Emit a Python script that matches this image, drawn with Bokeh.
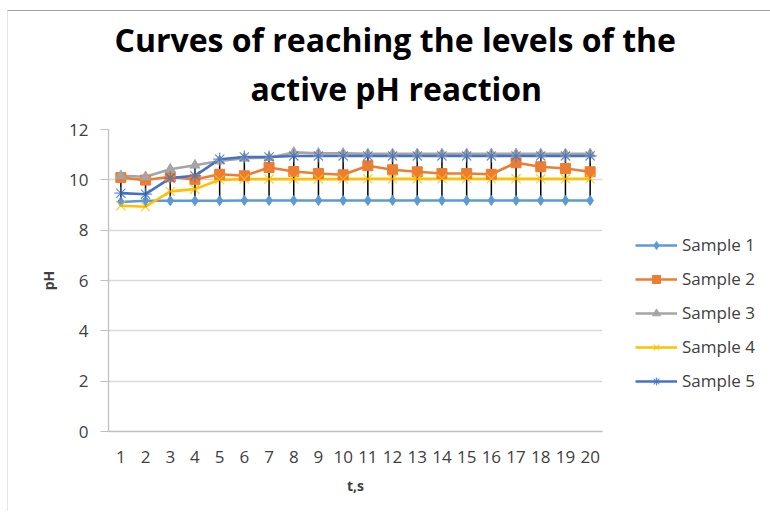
import numpy as np
from bokeh.plotting import figure
from bokeh.models import Range1d, FixedTicker, Legend, LegendItem, Title
from bokeh.embed import file_html
from bokeh.resources import INLINE

t = list(range(1, 21))
sample1 = [9.12, 9.17, 9.17, 9.17, 9.17, 9.18, 9.18, 9.18, 9.18, 9.18,
           9.18, 9.18, 9.18, 9.18, 9.18, 9.18, 9.18, 9.18, 9.18, 9.18]
sample2 = [10.09, 9.99, 10.12, 10.01, 10.22, 10.16, 10.49, 10.33, 10.25, 10.2,
           10.56, 10.4, 10.32, 10.25, 10.25, 10.22, 10.68, 10.52, 10.45, 10.32]
sample3 = [10.16, 10.12, 10.42, 10.58, 10.75, 10.86, 10.88, 11.09, 11.05, 11.05,
           11.03, 11.03, 11.03, 11.03, 11.03, 11.03, 11.03, 11.03, 11.03, 11.03]
sample4 = [8.97, 8.93, 9.54, 9.63, 10.0, 10.03, 10.03, 10.03, 10.03, 10.03,
           10.04, 10.04, 10.04, 10.04, 10.04, 10.04, 10.04, 10.04, 10.04, 10.04]
sample5 = [9.47, 9.43, 10.07, 10.16, 10.82, 10.91, 10.91, 10.95, 10.95, 10.95,
           10.95, 10.95, 10.95, 10.95, 10.95, 10.95, 10.95, 10.95, 10.95, 10.95]
names = ["Sample 1", "Sample 2", "Sample 3", "Sample 4", "Sample 5"]
y_ticks = [0, 2, 4, 6, 8, 10, 12]

series = [sample1, sample2, sample3, sample4, sample5]
colors = ["#5B9BD5", "#ED7D31", "#A5A5A5", "#FFC000", "#4472C4"]
markers = ["diamond", "square", "triangle", "x", "asterisk"]
msizes = [10, 10, 10, 13, 13]

FONT = "Open Sans"

p = figure(frame_width=494, frame_height=302, output_backend="svg",
           toolbar_location=None, x_range=Range1d(0.5, 20.5), y_range=Range1d(0, 12),
           min_border_left=100, min_border_right=168, min_border_top=118,
           min_border_bottom=80)
p.styles = {"border-top": "1px solid #a0a0a0", "border-left": "1px solid #e6e6e6",
            "margin-top": "10px", "margin-left": "7px"}
p.outline_line_color = None
p.background_fill_color = "white"
p.border_fill_color = "white"

p.add_layout(Title(text="active pH reaction", align="left", offset=142,
                   text_font=FONT, text_font_size="32px", text_font_style="bold",
                   text_color="#000000", standoff=40), "above")
p.add_layout(Title(text="Curves of reaching the levels of the", align="left", offset=6,
                   text_font=FONT, text_font_size="32px", text_font_style="bold",
                   text_color="#000000", standoff=-33), "above")

p.xgrid.visible = False
p.ygrid.grid_line_color = "#d9d9d9"
p.ygrid.grid_line_width = 1.3
p.ygrid.ticker = FixedTicker(ticks=y_ticks)

p.xaxis.ticker = FixedTicker(ticks=t)
p.xaxis.axis_line_color = "#bfbfbf"
p.xaxis.axis_line_width = 1.3
p.xaxis.major_tick_line_color = None
p.xaxis.minor_tick_line_color = None
p.xaxis.major_label_standoff = 13
p.xaxis.major_label_text_font = FONT
p.xaxis.major_label_text_font_size = "17px"
p.xaxis.major_label_text_color = "#404040"
p.xaxis.axis_label = "t,s"
p.xaxis.axis_label_text_font = FONT
p.xaxis.axis_label_text_font_size = "14px"
p.xaxis.axis_label_text_font_style = "bold"
p.xaxis.axis_label_text_color = "#404040"
p.xaxis.axis_label_standoff = 10

p.yaxis.ticker = FixedTicker(ticks=y_ticks)
p.yaxis.axis_line_color = "#bfbfbf"
p.yaxis.axis_line_width = 1.3
p.yaxis.major_tick_line_color = "#bfbfbf"
p.yaxis.major_tick_out = 8
p.yaxis.major_tick_in = 0
p.yaxis.minor_tick_line_color = None
p.yaxis.major_label_standoff = 12
p.yaxis.major_label_text_font = FONT
p.yaxis.major_label_text_font_size = "17px"
p.yaxis.major_label_text_color = "#404040"
p.yaxis.axis_label = "pH"
p.yaxis.axis_label_text_font = FONT
p.yaxis.axis_label_text_font_size = "14px"
p.yaxis.axis_label_text_font_style = "bold"
p.yaxis.axis_label_text_color = "#404040"
p.yaxis.axis_label_standoff = 8

line_rs = []
for s, c in zip(series, colors):
    line_rs.append(p.line(t, s, line_color=c, line_width=2.6))

arr = np.array(series)
p.segment(x0=t, y0=arr.min(axis=0), x1=t, y1=arr.max(axis=0),
          line_color="black", line_width=1.5)

items = []
for s, c, m, ms, n, lr in zip(series, colors, markers, msizes, names, line_rs):
    if m in ("x", "asterisk"):
        sr = p.scatter(t, s, marker=m, size=ms, line_color=c, line_width=1.2,
                       fill_color=c, line_alpha=0.8)
    else:
        sr = p.scatter(t, s, marker=m, size=ms, line_color=c, fill_color=c)
    items.append(LegendItem(label=n, renderers=[lr, sr]))

legend = Legend(items=items, location=(33, 39), padding=0, margin=0,
                border_line_color=None, background_fill_alpha=0,
                glyph_width=42, glyph_height=20, spacing=11, label_standoff=5,
                label_text_font=FONT, label_text_font_size="17px",
                label_text_color="#404040")
p.add_layout(legend, "right")

open("out.html", "w").write(file_html(p, INLINE))
